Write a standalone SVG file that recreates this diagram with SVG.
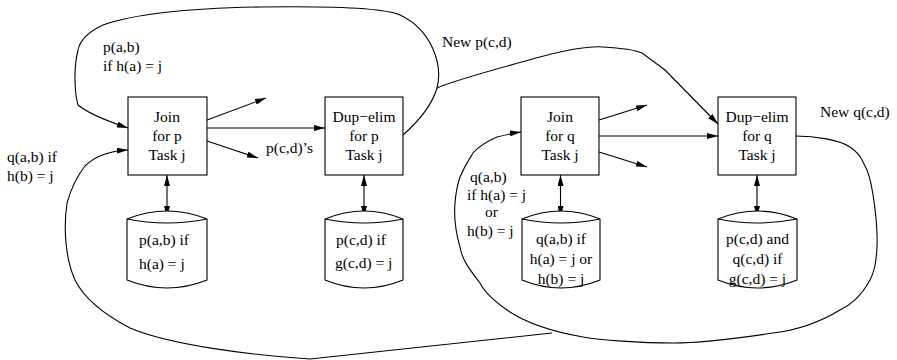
<svg xmlns="http://www.w3.org/2000/svg" width="897" height="360" viewBox="0 0 897 360">
<style>
.n{fill:#fff;stroke:#000;stroke-width:1.1}
.c path{fill:none;stroke:#000;stroke-width:1.1}
.a{marker-end:url(#ah)}
.d{marker-end:url(#ah);marker-start:url(#ah)}
text{font-family:"Liberation Serif","Times New Roman",serif;font-size:15.5px;fill:#000}
.m{text-anchor:middle}
</style>
<defs>
<marker id="ah" viewBox="0 0 11 6" refX="11" refY="3" markerWidth="11" markerHeight="6" markerUnits="userSpaceOnUse" orient="auto-start-reverse">
<path d="M0,0 L11,3 L0,6 Z" fill="#000"/>
</marker>
</defs>
<rect width="897" height="360" fill="#fff"/>
<g id="connectors" class="c">
<path class="a" d="M207,120 L266,98"/>
<path class="a" d="M207,128 L325,128"/>
<path class="a" d="M207,141 L258,158"/>
<path class="a" d="M599,120 L647,105"/>
<path class="a" d="M599,136 L718,136"/>
<path class="a" d="M599,152 L647,167"/>
<path class="d" d="M167,175 L167,217"/>
<path class="d" d="M364,175 L364,217"/>
<path class="d" d="M560.5,175 L560.5,217"/>
<path class="d" d="M757,175 L757,217"/>
<path class="a" d="M403,135 C420,120 432,105 437,88 C443,65 432,30 400,15 C385,8 330,6 260,7 C200,8 140,12 103,25 C88,32 80,40 78,50 C73,70 75,95 78,105 C90,115 110,122 128,128"/>
<path class="a" d="M437,88 C455,80 500,68 540,57 C570,49 590,46 603,47 C620,48 635,50 642,53 L665,70 L718,124"/>
<path class="a" d="M552,333 L310,359 C250,355 170,345 130,328 C105,315 85,300 75,280 C66,260 63,230 67,203 C72,185 78,175 85,166 C95,156 110,151 128,150"/>
<path class="a" d="M796,136 C815,136 840,140 850,147 C856,151 860,156 862,160 L867,170 C873,185 878,225 877,247 C876,265 874,272 870,280 C860,298 850,305 840,310 C820,322 800,330 773,333 C740,338 700,343 673,343 C640,343 600,340 583,337 C560,333 530,325 510,312 C495,302 485,293 480,283 C470,270 462,260 460,247 C455,230 454,215 455,203 C456,190 458,183 460,177 C465,165 470,158 473,153 C480,145 490,140 497,137 C505,135 513,133 521,132"/>
</g>
<g id="join-p"><rect class="n" x="128" y="97" width="79" height="78"/>
<text class="m" x="167" y="122">Join</text><text class="m" x="167" y="141">for p</text><text class="m" x="167" y="160">Task j</text></g>
<g id="dup-p"><rect class="n" x="325" y="97" width="78" height="78"/>
<text class="m" x="364" y="122">Dup−elim</text><text class="m" x="364" y="141">for p</text><text class="m" x="364" y="160">Task j</text></g>
<g id="join-q"><rect class="n" x="521" y="97" width="78" height="78"/>
<text class="m" x="560" y="122">Join</text><text class="m" x="560" y="141">for q</text><text class="m" x="560" y="160">Task j</text></g>
<g id="dup-q"><rect class="n" x="718" y="97" width="78" height="78"/>
<text class="m" x="757" y="122">Dup−elim</text><text class="m" x="757" y="141">for q</text><text class="m" x="757" y="160">Task j</text></g>
<g id="store-p-ab"><path class="n" d="M127,219 Q167,203 207,219 L207,280 Q167,296 127,280 Z M127,219 Q167,227 207,219"/>
<text x="139" y="245">p(a,b) if</text><text x="139" y="269">h(a) = j</text></g>
<g id="store-p-cd"><path class="n" d="M325,219 Q364,203 403,219 L403,280 Q364,296 325,280 Z M325,219 Q364,227 403,219"/>
<text x="336" y="245">p(c,d) if</text><text x="335" y="268">g(c,d) = j</text></g>
<g id="store-q-ab"><path class="n" d="M522,219 Q561,203 600,219 L600,280 Q561,296 522,280 Z M522,219 Q561,227 600,219"/>
<text class="m" x="561" y="244">q(a,b) if</text><text class="m" x="561" y="264">h(a) = j or</text><text class="m" x="561" y="284">h(b) = j</text></g>
<g id="store-pq-cd"><path class="n" d="M718,219 Q757.5,203 797,219 L797,280 Q757.5,296 718,280 Z M718,219 Q757.5,227 797,219"/>
<text class="m" x="757.5" y="244">p(c,d) and</text><text class="m" x="757.5" y="264">q(c,d) if</text><text class="m" x="757.5" y="284">g(c,d) = j</text></g>
<g id="labels">
<text x="103" y="52">p(a,b)</text><text x="103" y="71">if h(a) = j</text>
<text x="7" y="162">q(a,b) if</text><text x="7" y="181">h(b) = j</text>
<text x="442" y="47">New p(c,d)</text>
<text x="820" y="117">New q(c,d)</text>
<text x="266" y="153">p(c,d)’s</text>
<text x="470" y="182">q(a,b)</text><text x="467" y="200">if h(a) = j</text><text x="485" y="217">or</text><text x="467" y="236">h(b) = j</text>
</g>
</svg>
